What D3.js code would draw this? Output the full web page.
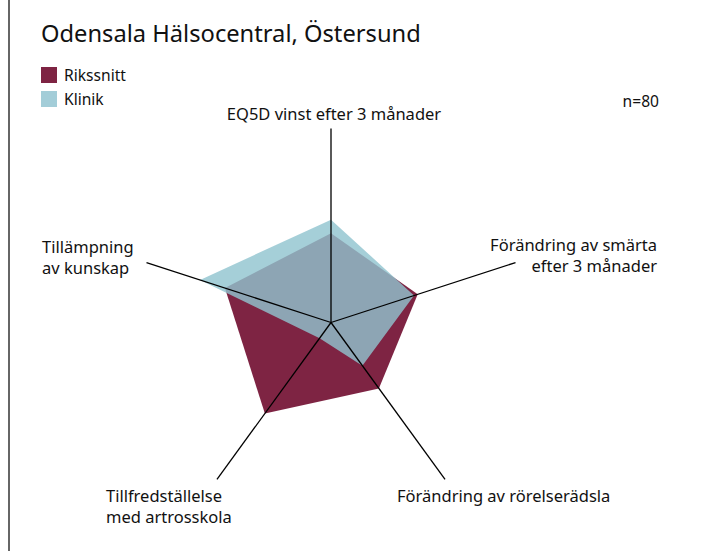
<!DOCTYPE html>
<html>
<head>
<meta charset="utf-8">
<script src="https://cdn.jsdelivr.net/npm/d3@7"></script>
<style>
  body { margin: 0; background: #fff; }
  svg { font-family: 'Noto Sans', sans-serif; }
</style>
</head>
<body>
<div id="chart"></div>
<script>
const axes = [
  ['EQ5D vinst efter 3 månader'],
  ['Förändring av smärta', 'efter 3 månader'],
  ['Förändring av rörelserädsla'],
  ['Tillfredställelse', 'med artrosskola'],
  ['Tillämpning', 'av kunskap'],
];
const rikssnitt = [0.46, 0.47, 0.42, 0.58, 0.575];
const klinik = [0.53, 0.45, 0.275, 0.1, 0.71];
const seriesNames = ['Rikssnitt', 'Klinik'];
const nLabel = 'n=80';

const width = 712;
const height = 551;
const center = { x: 331, y: 322.5 };
const radius = 194;

const svg = d3.select('#chart').append('svg').attr('width', width).attr('height', height);

// left frame edge
svg.append('line')
  .attr('x1', 9).attr('x2', 9).attr('y1', 0).attr('y2', height)
  .attr('stroke', '#333').attr('stroke-width', 1.5);

svg.append('text')
  .attr('x', 41).attr('y', 42)
  .attr('font-size', 23.7).attr('fill', '#111')
  .text('Odensala Hälsocentral, Östersund');

const colors = { Rikssnitt: '#7e2443', Klinik: '#90c4cf' };

const legend = svg.append('g').attr('class', 'legend');
seriesNames.forEach((name, i) => {
  const y = 67 + i * 24;
  legend.append('rect').attr('x', 41).attr('y', y).attr('width', 16).attr('height', 16)
    .attr('fill', name === 'Klinik' ? '#a3cdd8' : colors[name]);
  legend.append('text').attr('x', 64).attr('y', y + 14).attr('font-size', 15.6).attr('fill', '#111').text(name);
});

svg.append('text')
  .attr('x', 659).attr('y', 107).attr('text-anchor', 'end')
  .attr('font-size', 15.6).attr('fill', '#111').text(nLabel);

const r = d3.scaleLinear().domain([0, 1]).range([0, radius]);
const angle = d3.scaleLinear().domain([0, axes.length]).range([0, 2 * Math.PI]);

const g = svg.append('g').attr('transform', `translate(${center.x},${center.y})`);

const radial = d3.lineRadial()
  .angle((d, i) => angle(i))
  .radius(d => r(d))
  .curve(d3.curveLinearClosed);

g.append('path').datum(rikssnitt).attr('d', radial).attr('fill', colors.Rikssnitt);
g.append('path').datum(klinik).attr('d', radial).attr('fill', colors.Klinik).attr('fill-opacity', 0.81);

const point = (i, v) => {
  const a = angle(i);
  return [Math.sin(a) * r(v), -Math.cos(a) * r(v)];
};

axes.forEach((label, i) => {
  const [x, y] = point(i, 1);
  g.append('line').attr('x1', 0).attr('y1', 0).attr('x2', x).attr('y2', y)
    .attr('stroke', '#000').attr('stroke-width', 1.3);
});

// axis labels
const labelPos = [
  { x: 334, y: 120, anchor: 'middle' },
  { x: 657, y: 251, anchor: 'end' },
  { x: 397, y: 502, anchor: 'start' },
  { x: 106, y: 502, anchor: 'start' },
  { x: 42, y: 253, anchor: 'start' },
];
axes.forEach((lines, i) => {
  const t = svg.append('text')
    .attr('x', labelPos[i].x).attr('y', labelPos[i].y)
    .attr('text-anchor', labelPos[i].anchor)
    .attr('font-size', 16.5).attr('fill', '#111');
  lines.forEach((line, j) => {
    t.append('tspan').attr('x', labelPos[i].x).attr('dy', j === 0 ? 0 : 21).text(line);
  });
});
</script>
</body>
</html>
